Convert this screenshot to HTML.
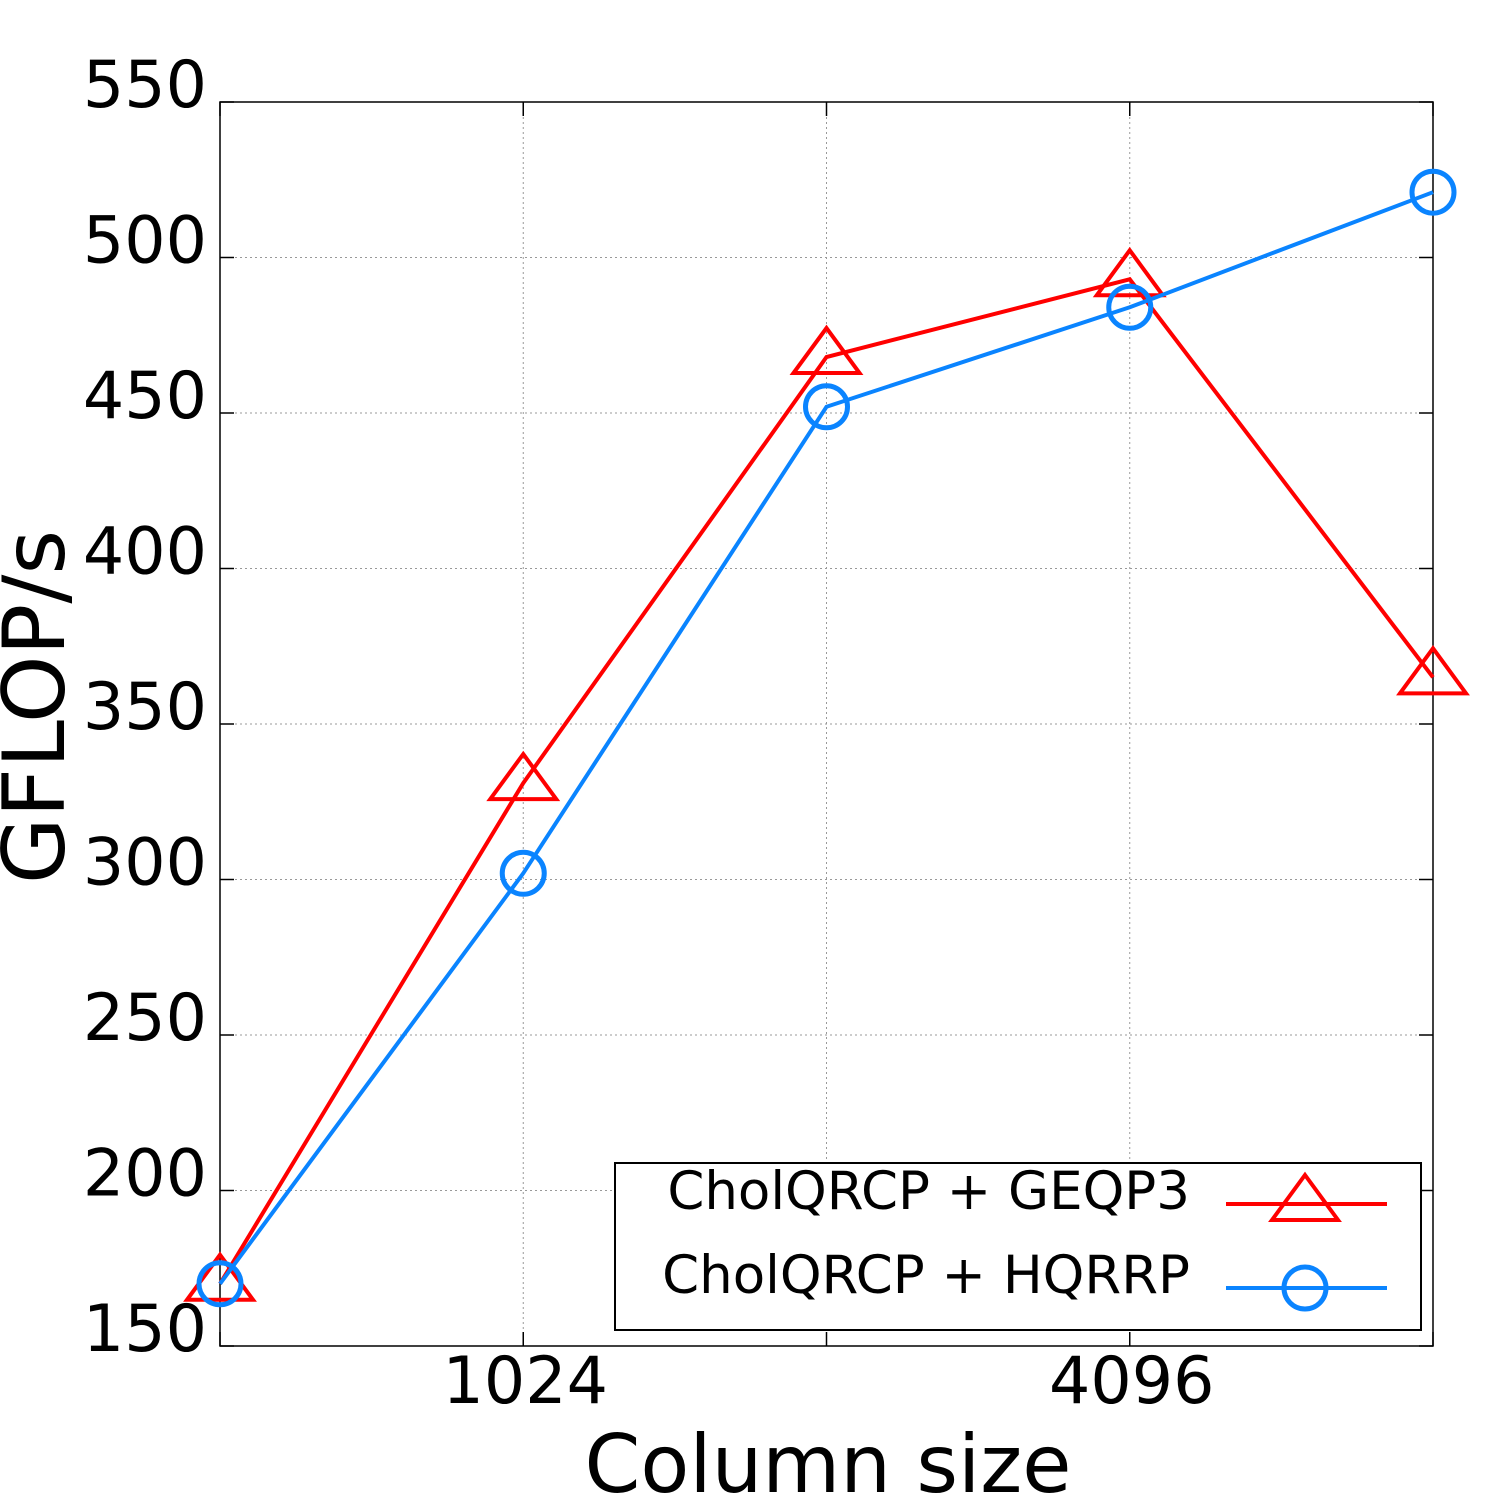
<!DOCTYPE html>
<html><head><meta charset="utf-8"><style>
html,body{margin:0;padding:0;background:#fff;}
svg{display:block;font-family:"DejaVu Sans","Liberation Sans",sans-serif;}
</style></head><body>
<svg id="chart" width="1500" height="1500" viewBox="0 0 1500 1500" xmlns="http://www.w3.org/2000/svg">
<g id="grid"></g>
<g id="axes"></g>
<g id="series"></g>
<g id="legend">
  <rect x="615" y="1163" width="806" height="167" fill="#fff" stroke="#000" stroke-width="2"/>
  <text x="1190" y="1209" font-size="53" text-anchor="end">CholQRCP + GEQP3</text>
  <line x1="1226" y1="1204" x2="1387" y2="1204" stroke="#f00" stroke-width="4"/>
  <polygon points="1305,1175 1338,1220 1272,1220" fill="none" stroke="#f00" stroke-width="4"/>
  <text x="1190" y="1293" font-size="53" text-anchor="end">CholQRCP + HQRRP</text>
  <line x1="1226" y1="1288" x2="1387" y2="1288" stroke="#0a84ff" stroke-width="4"/>
  <circle cx="1305" cy="1288" r="21" fill="none" stroke="#0a84ff" stroke-width="5"/>
</g>
<text x="828" y="1492" font-size="80" text-anchor="middle">Column size</text>
<text transform="translate(64,707) rotate(-90)" font-size="86" text-anchor="middle">GFLOP/s</text>
</svg>
<script>
const categories = [512, 1024, 2048, 4096, 8192];
const xTickLabels = ["", "1024", "", "4096", ""];
const yTicks = [150, 200, 250, 300, 350, 400, 450, 500, 550];
const geqp3Values = [170, 331, 468, 493, 365];
const hqrrpValues = [170, 302, 452, 484, 521];

const NS = "http://www.w3.org/2000/svg";
const L = 220, R = 1433, T = 102, B = 1346;
const yMin = 150, yMax = 550;
function xPos(i){ return L + (R - L) * i / (categories.length - 1); }
function yPos(v){ return B - (v - yMin) / (yMax - yMin) * (B - T); }
function mk(tag, attrs, parent){ const e = document.createElementNS(NS, tag); for (const k in attrs) e.setAttribute(k, attrs[k]); parent.appendChild(e); return e; }

const grid = document.getElementById('grid');
const axes = document.getElementById('axes');
const series = document.getElementById('series');

yTicks.forEach(v => {
  const y = yPos(v);
  if (v > yMin && v < yMax) {
    const g = mk('line', {x1:L, x2:R, y1:y, y2:y, stroke:'#999', 'stroke-width':1, 'stroke-dasharray':'2,3'}, grid);
    
    
  }
  const t1 = mk('line', {x1:L, x2:L+14, y1:y, y2:y, stroke:'#000', 'stroke-width':1.5}, axes);
  
  
  const t2 = mk('line', {x1:R-14, x2:R, y1:y, y2:y, stroke:'#000', 'stroke-width':1.5}, axes);
  
  
  const lb = mk('text', {x:207, y:y+5, 'font-size':65, 'text-anchor':'end'}, axes);
  lb.textContent = v;
  
  
});

categories.forEach((c, i) => {
  const x = xPos(i);
  if (i > 0 && i < categories.length - 1) {
    const g = mk('line', {x1:x, x2:x, y1:T, y2:B, stroke:'#999', 'stroke-width':1, 'stroke-dasharray':'2,3'}, grid);
    
    
  }
  const t1 = mk('line', {x1:x, x2:x, y1:B-14, y2:B, stroke:'#000', 'stroke-width':1.5}, axes);
  
  
  const t2 = mk('line', {x1:x, x2:x, y1:T, y2:T+14, stroke:'#000', 'stroke-width':1.5}, axes);
  
  
  if (xTickLabels[i]) {
    const lb = mk('text', {x:x+2, y:1403, 'font-size':65, 'text-anchor':'middle'}, axes);
    lb.textContent = xTickLabels[i];
    
    
  }
});

const frame = mk('rect', {x:L, y:T, width:R-L, height:B-T, fill:'none', stroke:'#000', 'stroke-width':1.5}, axes);



function drawSeries(vals, color, kind, name){
  const pts = vals.map((v,i) => xPos(i) + ',' + yPos(v)).join(' ');
  const pl = mk('polyline', {points:pts, fill:'none', stroke:color, 'stroke-width':4}, series);
  
  
  vals.forEach((v,i) => {
    const x = xPos(i), y = yPos(v);
    let m;
    if (kind === 'tri') {
      m = mk('polygon', {points:`${x},${y-29} ${x+33},${y+16} ${x-33},${y+16}`, fill:'none', stroke:color, 'stroke-width':4}, series);
    } else {
      m = mk('circle', {cx:x, cy:y, r:21, fill:'none', stroke:color, 'stroke-width':5}, series);
    }
    
    
  });
}
drawSeries(geqp3Values, '#f00', 'tri', 'geqp3');
drawSeries(hqrrpValues, '#0a84ff', 'circ', 'hqrrp');
</script>
</body></html>
